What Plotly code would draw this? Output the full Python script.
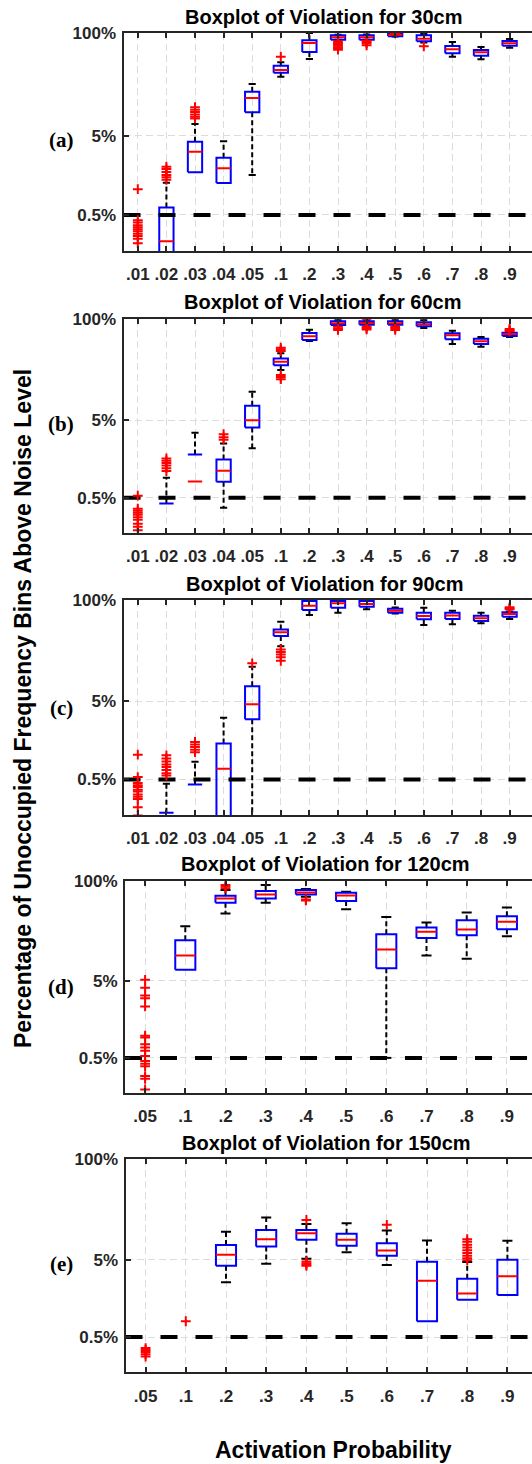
import plotly.graph_objects as go

W, H = 532, 1464

cats_14 = [".01", ".02", ".03", ".04", ".05", ".1", ".2", ".3", ".4", ".5", ".6", ".7", ".8", ".9"]
cats_10 = [".05", ".1", ".2", ".3", ".4", ".5", ".6", ".7", ".8", ".9"]

y_tick_vals = [0.5, 5, 100]
y_tick_text = ["0.5%", "5%", "100%"]
noise_level = 0.5

titles = ["Boxplot of Violation for 30cm", "Boxplot of Violation for 60cm",
          "Boxplot of Violation for 90cm", "Boxplot of Violation for 120cm",
          "Boxplot of Violation for 150cm"]
panel_tags = ["(a)", "(b)", "(c)", "(d)", "(e)"]

# ---- (a) 30cm ----
a_q1 = [0, 0.1, 1.73, 1.27, 9.93, 31.5, 57.5, 82.3, 82.3, 91, 78.5, 55.3, 51.6, 69.2]
a_med = [0, 0.232, 3.16, 1.95, 15.1, 34.1, 74.8, 88.3, 88.3, 95, 84.7, 62.2, 57.0, 74.1]
a_q3 = [0, 0.62, 4.22, 2.65, 18.1, 38.6, 80.9, 93.5, 93.5, 98, 93.5, 68.5, 61.0, 79.2]
a_lo = [0, 0, 0, 0, 1.60, 28.0, 46.9, 82.3, 82.3, 90, 75.8, 50.2, 46.5, 65.2]
a_hi = [0, 1.28, 7.07, 4.27, 22.7, 42.6, 100, 95.1, 96, 98, 97.1, 76.9, 66.5, 84.0]
a_out = [[1.06, 0.43, 0.40, 0.37, 0.35, 0.33, 0.31, 0.29, 0.27, 0.25, 0.22],
         [2.04, 1.9, 1.75, 1.6, 1.5, 1.39],
         [11.5, 10.7, 10.0, 9.3, 8.7, 8.3],
         [], [], [50.2], [],
         [78.5, 75, 72, 69, 66, 63.5, 61.5],
         [80, 77, 74, 70],
         [99.8, 99.0],
         [67.9], [], [], []]

# ---- (b) 60cm ----
b_q1 = [0, 0, 0, 0.80, 4.03, 25.5, 54.0, 84.4, 85, 85, 81.2, 55.2, 48.0, 60.8]
b_med = [0, 0, 0.81, 1.11, 5.0, 28.3, 60.3, 88.8, 89.5, 89, 86.2, 62.1, 52.0, 64.6]
b_q3 = [0, 0.42, 1.80, 1.55, 7.65, 31.3, 66.5, 94.2, 94.2, 94.5, 91.4, 65.9, 56.2, 67.1]
b_lo = [0, 0, 0, 0.37, 2.17, 22.1, 52.5, 84, 85, 85, 77.2, 48.0, 44.3, 59.1]
b_hi = [0, 0.90, 3.43, 2.50, 11.6, 36.4, 73.4, 98, 97, 98, 98, 71.3, 59.1, 67.1]
b_out = [[0.53, 0.36, 0.34, 0.32, 0.30, 0.28, 0.26, 0.23, 0.21, 0.19],
         [1.6, 1.5, 1.4, 1.3, 1.2, 1.1],
         [],
         [3.3, 3.0, 2.8],
         [],
         [43, 41, 39, 19.1, 18, 16.9],
         [],
         [80, 76, 73],
         [99.8, 81, 77.5, 74],
         [81, 77, 73],
         [], [], [],
         [75, 72.5, 70.6]]

# ---- (c) 90cm ----
c_q1 = [0, 0, 0, 0.1, 2.95, 34.5, 74.4, 79.6, 82, 68.7, 56.5, 57.1, 53.7, 61.1]
c_med = [0, 0, 0, 0.687, 4.6, 38.5, 84.5, 90.7, 88.9, 72.8, 62.3, 63.3, 58.2, 66.1]
c_q3 = [0, 0.187, 0.43, 1.44, 7.85, 42.0, 97, 97, 97, 77.3, 68.7, 68.7, 62.9, 69.5]
c_lo = [0, 0, 0, 0, 0.1, 25.6, 64.1, 68.7, 75.9, 67, 47.7, 48.7, 50.2, 57.1]
c_hi = [0, 0.44, 0.84, 3.1, 13.9, 52.6, 99.5, 99.5, 99.5, 80, 79.6, 72.9, 68.7, 71.2]
c_out = [[1.04, 0.536, 0.45, 0.42, 0.40, 0.37, 0.35, 0.32, 0.30, 0.28, 0.22, 0.172],
         [1.02, 0.93, 0.85, 0.78, 0.72, 0.66, 0.6, 0.56],
         [1.51, 1.4, 1.3, 1.2, 1.12],
         [],
         [15.4],
         [23.2, 21.5, 20, 18.5, 16.6],
         [], [], [], [], [], [], [],
         [80.5, 78, 75.9]]

# ---- (d) 120cm ----
d_q1 = [0, 6.97, 51.6, 58.9, 66.4, 54.3, 7.31, 18.0, 19.5, 23.4]
d_med = [0, 10.7, 58.9, 66.4, 70.5, 64.4, 12.8, 21.8, 23.2, 29.2]
d_q3 = [0, 16.8, 63.7, 73.4, 75.6, 69.7, 20.1, 24.6, 30.7, 34.6]
d_lo = [0, 0, 37.5, 51.6, 61.8, 42.7, 0.5, 10.7, 9.7, 19.0]
d_hi = [0, 25.6, 76, 87.9, 77.9, 71.9, 33.9, 28.6, 38.6, 45.0]
d_out = [[5.16, 4.06, 3.22, 2.97, 2.33, 0.97, 0.92, 0.75, 0.68, 0.62, 0.53, 0.456,
          0.42, 0.39, 0.29, 0.268, 0.195],
         [],
         [80, 84, 88],
         [],
         [57, 55.5],
         [], [], [], [], []]

# ---- (e) 150cm ----
e_q1 = [0, 0, 4.16, 7.39, 9.02, 7.54, 5.6, 0.80, 1.52, 1.74]
e_med = [0, 0, 5.77, 9.2, 11.0, 9.02, 6.56, 2.67, 1.83, 3.06]
e_q3 = [0, 0, 7.76, 12.1, 12.1, 10.8, 8.17, 4.69, 2.83, 4.97]
e_lo = [0, 0, 2.56, 4.42, 5.13, 6.25, 4.25, 0, 0, 0]
e_hi = [0, 0, 11.5, 17.5, 14.5, 14.8, 11.9, 8.83, 4.65, 8.75]
e_out = [[0.36, 0.34, 0.32, 0.30, 0.28],
         [0.80],
         [], [],
         [16.3, 4.73, 4.5, 4.3, 4.16],
         [],
         [14.1],
         [],
         [9.2, 8.5, 7.8, 7.2, 6.6, 6.1, 5.6, 5.2, 4.9],
         []]

panels = [
    (cats_14, a_q1, a_med, a_q3, a_lo, a_hi, a_out),
    (cats_14, b_q1, b_med, b_q3, b_lo, b_hi, b_out),
    (cats_14, c_q1, c_med, c_q3, c_lo, c_hi, c_out),
    (cats_10, d_q1, d_med, d_q3, d_lo, d_hi, d_out),
    (cats_10, e_q1, e_med, e_q3, e_lo, e_hi, e_out),
]

# pixel geometry of each panel (page coordinates)
plot_top = [33, 319.3, 600, 880.7, 1159]
plot_bot = [251, 533, 815, 1093, 1372.3]
plot_left = [123.5, 123.5, 123.5, 125, 125.5]
title_y = [17, 302, 584, 864, 1143]
title_x = [323, 322, 324, 325.5, 326]
tag_y = [140, 424, 708, 987, 1264]
cat_px = [28.6, 28.6, 28.6, 40.2, 40.2]

FONT = "Liberation Sans, Arial, Helvetica, sans-serif"
AX = "#262626"


def pos(v):
    # non-positive values cannot be shown on the log axis -> gap
    return v if (v is not None and v > 0) else None


fig = go.Figure()
layout = dict(template="none", width=W, height=H,
              margin=dict(l=0, r=0, t=0, b=0, pad=0, autoexpand=False),
              paper_bgcolor="white", plot_bgcolor="white", showlegend=False)
annotations = []

BW = 0.25   # half box width (category units)
CW = 0.125  # half cap width

for p, (cats, q1, med, q3, lo, hi, out) in enumerate(panels):
    n = p + 1
    xa = "x" if n == 1 else f"x{n}"
    ya = "y" if n == 1 else f"y{n}"
    xs = list(range(1, len(cats) + 1))

    wx, wy, cx, cy, bx, by, mx, my, ox, oy = [], [], [], [], [], [], [], [], [], []
    for i, x in enumerate(xs):
        wx += [x, x, None, x, x, None]
        wy += [pos(q3[i]), pos(hi[i]), None, pos(q1[i]), pos(lo[i]), None]
        cx += [x - CW, x + CW, None, x - CW, x + CW, None]
        cy += [pos(hi[i]), pos(hi[i]), None, pos(lo[i]), pos(lo[i]), None]
        bx += [x - BW, x + BW, x + BW, x - BW, x - BW, None]
        by += [pos(q1[i]), pos(q1[i]), pos(q3[i]), pos(q3[i]), pos(q1[i]), None]
        mx += [x - BW, x + BW, None]
        my += [pos(med[i]), pos(med[i]), None]
        ox += [x] * len(out[i])
        oy += out[i]

    common = dict(xaxis=xa, yaxis=ya, hoverinfo="skip", showlegend=False)
    fig.add_trace(go.Scatter(x=wx, y=wy, mode="lines",
                             line=dict(color="black", width=2, dash="5px,3px"), **common))
    fig.add_trace(go.Scatter(x=cx, y=cy, mode="lines",
                             line=dict(color="black", width=2), **common))
    fig.add_trace(go.Scatter(x=bx, y=by, mode="lines",
                             line=dict(color="#0000ff", width=2), **common))
    fig.add_trace(go.Scatter(x=mx, y=my, mode="lines",
                             line=dict(color="#ff0000", width=2), **common))

    xmax = 0.5 + (W - plot_left[p]) / cat_px[p]
    fig.add_trace(go.Scatter(x=[0.5, xmax + 1], y=[noise_level, noise_level], mode="lines",
                             line=dict(color="black", width=4, dash="17px,18px"), **common))
    fig.add_trace(go.Scatter(x=ox, y=oy, mode="markers",
                             marker=dict(symbol="cross-thin", size=7,
                                         line=dict(color="#ff0000", width=2)), **common))

    xdom = [plot_left[p] / W, 1.0]
    ydom = [1 - plot_bot[p] / H, 1 - plot_top[p] / H]
    layout["xaxis" if n == 1 else f"xaxis{n}"] = dict(
        domain=xdom, anchor=ya, range=[0.5, xmax], automargin=False,
        tickmode="array", tickvals=xs, ticktext=cats,
        ticks="inside", ticklen=5, tickwidth=1.5, tickcolor=AX,
        showline=True, linecolor=AX, linewidth=2, mirror="ticks",
        showgrid=True, gridcolor="#dcdcdc", gridwidth=1, griddash="7px,4px",
        zeroline=False, ticklabelstandoff=7,
        tickfont=dict(family=FONT, size=17, color=AX, weight="bold"))
    layout["yaxis" if n == 1 else f"yaxis{n}"] = dict(
        domain=ydom, anchor=xa, type="log", range=[-0.757, 2], automargin=False,
        tickmode="array", tickvals=y_tick_vals, ticktext=y_tick_text,
        ticks="inside", ticklen=5, tickwidth=1.5, tickcolor=AX,
        showline=True, linecolor=AX, linewidth=2, mirror=False,
        showgrid=True, gridcolor="#dcdcdc", gridwidth=1, griddash="7px,4px",
        zeroline=False, ticklabelstandoff=2,
        tickfont=dict(family=FONT, size=17, color=AX, weight="bold"))

    annotations.append(dict(text=titles[p], xref="paper", yref="paper",
                            x=title_x[p] / W, y=1 - title_y[p] / H,
                            xanchor="center", yanchor="middle", showarrow=False,
                            font=dict(family=FONT, size=20, color="black", weight="bold")))
    annotations.append(dict(text=panel_tags[p], xref="paper", yref="paper",
                            x=61 / W, y=1 - tag_y[p] / H,
                            xanchor="center", yanchor="middle", showarrow=False,
                            font=dict(family="Liberation Serif, Times New Roman, serif",
                                      size=21, color="black", weight="bold")))

annotations.append(dict(text="Percentage of Unoccupied Frequency Bins Above Noise Level",
                        xref="paper", yref="paper", x=23.5 / W, y=1 - 708.5 / H,
                        xanchor="center", yanchor="middle", textangle=-90, showarrow=False,
                        font=dict(family=FONT, size=23, color="black", weight="bold")))
annotations.append(dict(text="Activation Probability", xref="paper", yref="paper",
                        x=333 / W, y=1 - 1450 / H, xanchor="center", yanchor="middle",
                        showarrow=False,
                        font=dict(family=FONT, size=23, color="black", weight="bold")))

layout["annotations"] = annotations
fig.update_layout(**layout)
fig.write_html("out.html",
               post_script="document.body.style.margin='0';"
                           "document.documentElement.style.overflow='hidden';")
